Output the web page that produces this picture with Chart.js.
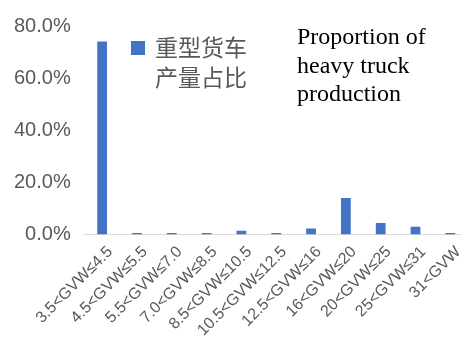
<!DOCTYPE html>
<html>
<head>
<meta charset="utf-8">
<script src="https://cdn.jsdelivr.net/npm/chart.js@4/dist/chart.umd.min.js"></script>
<style>
html,body{margin:0;padding:0;background:#fff;overflow:hidden;}
#wrap{width:472px;height:350px;position:relative;}
</style>
</head>
<body>
<div id="wrap"><canvas id="c" width="472" height="350"></canvas></div>
<script>
const categories = ["3.5<GVW≤4.5","4.5<GVW≤5.5","5.5<GVW≤7.0","7.0<GVW≤8.5","8.5<GVW≤10.5","10.5<GVW≤12.5","12.5<GVW≤16","16<GVW≤20","20<GVW≤25","25<GVW≤31","31<GVW"];
const shareValues = [74.1, 0.6, 0.6, 0.6, 1.5, 0.6, 2.3, 14.0, 4.4, 3.0, 0.6];
const legendLines = ["重型货车","产量占比"];
const noteLines = ["Proportion of","heavy truck","production"];
const yTicks = [0, 20, 40, 60, 80];

const overlay = {
  id: 'overlay',
  afterDraw(chart) {
    const ctx = chart.ctx;
    ctx.save();
    ctx.fillStyle = '#4472C4';
    ctx.fillRect(131, 41, 14, 14);
    ctx.fillStyle = '#595959';
    ctx.font = '23px "Noto Sans CJK SC", sans-serif';
    ctx.textBaseline = 'middle';
    ctx.textAlign = 'left';
    legendLines.forEach((t, i) => ctx.fillText(t, 155, 47 + i * 30));
    ctx.fillStyle = '#000';
    ctx.font = '24px "Liberation Serif", serif';
    ctx.textBaseline = 'alphabetic';
    noteLines.forEach((t, i) => ctx.fillText(t, 297, 44 + i * 28.5));
    ctx.restore();
  }
};

new Chart(document.getElementById('c'), {
  type: 'bar',
  data: {
    labels: categories,
    datasets: [{
      label: legendLines.join(''),
      data: shareValues,
      backgroundColor: '#4472C4',
      categoryPercentage: 1,
      barPercentage: 0.28
    }]
  },
  options: {
    responsive: false,
    animation: false,
    devicePixelRatio: 1,
    layout: { padding: { left: 0, top: 9, right: 2, bottom: 2 } },
    plugins: { legend: { display: false }, tooltip: { enabled: false } },
    scales: {
      x: {
        grid: { display: false, drawTicks: false },
        border: { display: true, color: '#D9D9D9', width: 1 },
        ticks: {
          autoSkip: false, minRotation: 45, maxRotation: 45,
          color: '#595959', padding: 8, labelOffset: 8,
          font: { family: '"Liberation Sans", Arial, sans-serif', size: 16 }
        }
      },
      y: {
        min: 0, max: 80,
        afterBuildTicks(scale) { scale.ticks = yTicks.map(v => ({ value: v })); },
        grid: { display: false, drawTicks: false },
        border: { display: false },
        ticks: {
          color: '#595959', padding: 14,
          font: { family: '"Liberation Sans", Arial, sans-serif', size: 20 },
          callback: v => v.toFixed(1) + '%'
        }
      }
    }
  },
  plugins: [overlay]
});
</script>
</body>
</html>
